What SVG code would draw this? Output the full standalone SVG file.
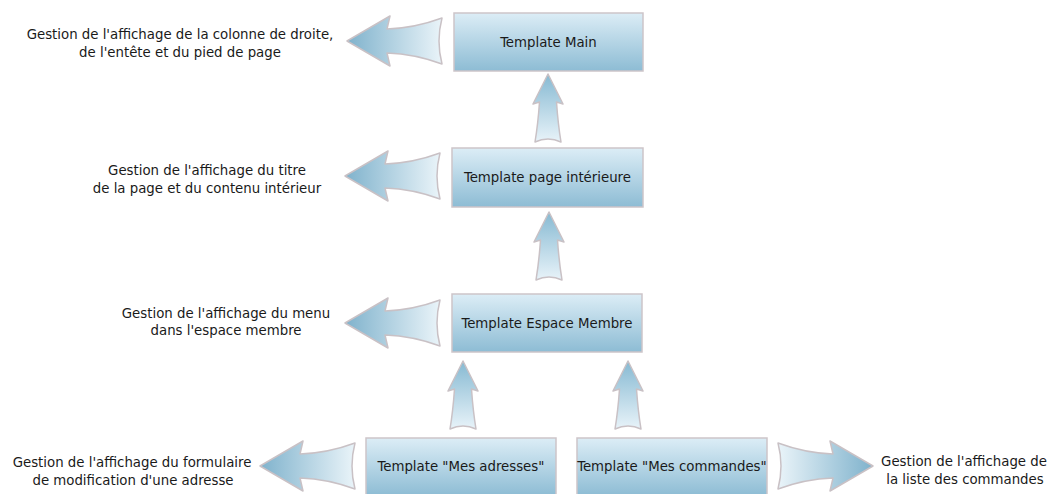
<svg xmlns="http://www.w3.org/2000/svg" width="1054" height="494" viewBox="0 0 1054 494">
<defs>
  <linearGradient id="boxGrad" x1="0" y1="0" x2="0" y2="1">
    <stop offset="0" stop-color="#dcedf6"/>
    <stop offset="1" stop-color="#8dbcd4"/>
  </linearGradient>
  <linearGradient id="hArrowGrad" x1="0" y1="0" x2="1" y2="0">
    <stop offset="0" stop-color="#7fb2cc"/>
    <stop offset="1" stop-color="#eaf4f9"/>
  </linearGradient>
  <linearGradient id="vArrowGrad" x1="0" y1="0" x2="0" y2="1">
    <stop offset="0" stop-color="#86b9d2"/>
    <stop offset="1" stop-color="#e8f3f9"/>
  </linearGradient>
  <path id="hArrow" d="M0,0 L43,-25 L40,-12 Q68,-13 95,-23 Q89,0 95,23 Q68,13 40,12 L43,25 Z"/>
  <path id="vArrow" d="M0,0 L15,30 L8.5,28 Q10,50 13,68 Q0,62 -13,68 Q-10,50 -8.5,28 L-15,30 Z"/>
</defs>
<style>
  .box { fill: url(#boxGrad); stroke: #cdc5c9; stroke-width: 1.5; }
  .harrow { fill: url(#hArrowGrad); stroke: #c9c1c5; stroke-width: 1.5; stroke-linejoin: round; }
  .varrow { fill: url(#vArrowGrad); stroke: #c9c1c5; stroke-width: 1.5; stroke-linejoin: round; }
  text { font-family: "DejaVu Sans Condensed", "DejaVu Sans", sans-serif; font-stretch: condensed; font-size: 14.8px; fill: #1a1a1a; text-anchor: middle; }
</style>
<rect width="1054" height="494" fill="#ffffff"/>

<g id="connectors">
  <use href="#hArrow" class="harrow" transform="translate(347,41)"/>
  <use href="#hArrow" class="harrow" transform="translate(345,176)"/>
  <use href="#hArrow" class="harrow" transform="translate(345,323)"/>
  <use href="#hArrow" class="harrow" transform="translate(260,466)"/>
  <use href="#hArrow" class="harrow" transform="translate(873,466) scale(-1,1)"/>
  <use href="#vArrow" class="varrow" transform="translate(548,74)"/>
  <use href="#vArrow" class="varrow" transform="translate(549,212)"/>
  <use href="#vArrow" class="varrow" transform="translate(463,361)"/>
  <use href="#vArrow" class="varrow" transform="translate(628,361)"/>
</g>

<g id="node-main">
  <rect class="box" x="454" y="13" width="189" height="58"/>
  <text x="548.5" y="47">Template Main</text>
</g>
<g id="node-page">
  <rect class="box" x="452" y="148" width="191" height="59"/>
  <text x="547.5" y="182">Template page intérieure</text>
</g>
<g id="node-espace">
  <rect class="box" x="452" y="294" width="190" height="58"/>
  <text x="547" y="328">Template Espace Membre</text>
</g>
<g id="node-adresses">
  <rect class="box" x="366" y="438" width="190" height="58"/>
  <text x="461" y="471">Template "Mes adresses"</text>
</g>
<g id="node-commandes">
  <rect class="box" x="577" y="438" width="190" height="58"/>
  <text x="672" y="471">Template "Mes commandes"</text>
</g>

<g id="label-main">
  <text x="180" y="39">Gestion de l'affichage de la colonne de droite,</text>
  <text x="180" y="57">de l'entête et du pied de page</text>
</g>
<g id="label-page">
  <text x="207" y="175">Gestion de l'affichage du titre</text>
  <text x="207" y="193">de la page et du contenu intérieur</text>
</g>
<g id="label-espace">
  <text x="226" y="318">Gestion de l'affichage du menu</text>
  <text x="226" y="335">dans l'espace membre</text>
</g>
<g id="label-adresses">
  <text x="132" y="467">Gestion de l'affichage du formulaire</text>
  <text x="133" y="485">de modification d'une adresse</text>
</g>
<g id="label-commandes">
  <text x="964" y="466">Gestion de l'affichage de</text>
  <text x="965" y="484">la liste des commandes</text>
</g>
</svg>
